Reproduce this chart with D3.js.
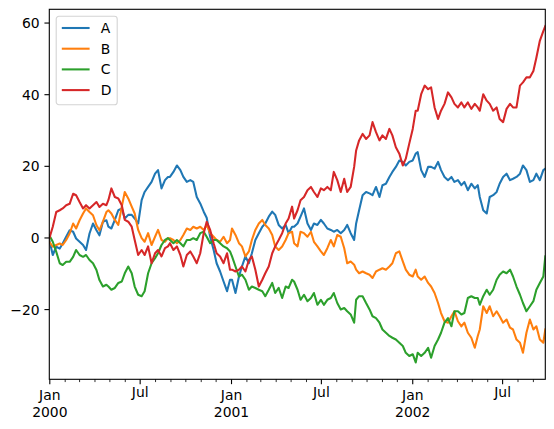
<!DOCTYPE html>
<html>
<head>
<meta charset="utf-8">
<script src="https://cdn.jsdelivr.net/npm/d3@7"></script>
<style>
  body { margin: 0; background: #fff; }
  svg { display: block; font-family: "DejaVu Sans", sans-serif; }
</style>
</head>
<body>
<svg width="554" height="429"></svg>
<script>
// day offsets from 2000-01-01
const dayOffsets = [
  0, 7, 14, 21, 27, 34, 41, 48, 54, 61, 68, 74, 81, 88, 95, 101, 108, 115,
  119, 125, 132, 139, 146, 152, 159, 166, 172, 179, 186, 192, 199, 206, 213, 219, 226, 233, 239,
  243, 250, 257, 264, 270, 277, 284, 290, 297, 304, 311, 317, 324, 331, 337, 344, 351, 358, 364,
  368, 375, 382, 388, 395, 402, 408, 415, 422, 429, 435, 442, 449, 455, 462, 469, 476, 482, 489,
  493, 500, 506, 513, 520, 527, 533, 540, 547, 553, 560, 567, 573, 580, 587, 594, 600, 607, 614,
  618, 624, 631, 638, 645, 651, 658, 665, 671, 678, 685, 691, 698, 705, 712, 718, 725, 732, 738,
  742, 749, 756, 763, 769, 776, 783, 789, 796, 803, 810, 816, 823, 830, 836, 843, 850, 857, 863,
  867, 874, 881, 887, 894, 901, 907, 914, 921, 928, 934, 941, 948, 954, 961, 968, 975, 981, 988, 995, 999
];

const seriesA = [
  -0.7, -4.9, -2.6, -3.1, -1.7, 0.2, 2.0, 1.6, -0.3, -1.2, -2.1, -3.5, 1.1, 3.9, 2.0, 0.6, 4.4, 4.8,
  3.0, 2.5, 4.9, 7.6, 8.1, 5.3, 6.3, 6.3, 5.3, 3.9, 10.4, 12.7, 14.1, 15.5, 17.8, 18.8, 13.7, 16.0, 16.9,
  16.9, 18.3, 20.1, 18.8, 16.9, 15.5, 16.0, 15.5, 11.3, 9.5, 7.2, 5.5, 0.2, -3.5, -7.2, -9.5, -12.3, -15.0, -11.8,
  -11.8, -15.5, -10.9, -8.1, -5.3, -7.2, -4.4, -0.7, 1.2, 3.0, 3.9, 5.8, 7.2, 6.3, 3.5, 2.5, 3.5, 1.2, 3.0,
  3.0, 3.9, 5.8, 8.1, 3.9, 2.1, 3.9, 3.5, 4.9, 3.9, 2.5, 2.1, 1.6, 2.1, 1.2, 2.1, 3.5, 1.2, -0.7,
  3.9, 7.6, 11.8, 12.7, 12.3, 11.8, 14.1, 11.3, 14.6, 15.0, 16.9, 18.3, 19.7, 21.5, 21.1, 20.1, 21.1, 21.5, 23.4,
  23.8, 18.8, 16.9, 19.7, 19.7, 19.2, 21.1, 18.8, 16.9, 16.0, 16.9, 15.5, 16.0, 14.6, 15.5, 13.2, 15.0, 13.7, 14.6,
  11.3, 7.6, 6.7, 11.3, 11.8, 12.7, 15.0, 16.9, 17.8, 16.0, 16.4, 16.9, 17.8, 20.1, 18.8, 15.5, 16.0, 17.8, 16.0, 18.8, 19.2
];

const seriesB = [
  -1.2, -2.6, -2.1, -1.7, -2.1, -0.7, 1.1, 3.9, 2.5, 4.8, 6.7, 8.1, 7.1, 6.2, 3.4, 2.0, 4.4, 7.1,
  7.6, 6.7, 4.9, 3.5, 8.6, 12.7, 10.9, 8.6, 6.7, 2.1, -0.2, -1.2, 1.2, -2.1, 0.2, 2.1, -0.7, -1.2, -0.2,
  -0.2, -0.7, -1.6, -0.7, 0.7, 2.5, 2.1, 3.0, 2.5, 3.0, 2.1, 3.5, 1.2, 0.2, -0.7, -1.2, 0.2, -1.6, -0.7,
  2.5, 0.7, -1.6, -2.5, -5.3, -3.9, -0.7, 2.1, 3.9, 4.9, 3.5, 2.5, 0.7, -2.5, -3.5, -2.5, -0.7, 1.2, 1.6,
  -1.6, -2.5, 1.6, 1.2, 0.2, 1.6, -1.2, -2.5, -3.9, -4.9, -3.0, -0.7, -2.5, 0.7, 0.2, -3.0, -7.2, -6.7, -7.6,
  -9.0, -10.0, -9.5, -10.0, -10.4, -11.3, -9.5, -9.0, -8.6, -9.0, -8.1, -7.2, -4.4, -3.9, -6.7, -9.0, -10.4, -10.9, -9.0,
  -10.9, -11.8, -10.9, -12.7, -13.7, -15.5, -18.3, -21.1, -23.4, -23.8, -22.0, -20.6, -23.4, -24.8, -23.8, -26.6, -28.0, -30.8, -27.5,
  -25.7, -19.2, -21.1, -19.2, -22.0, -20.6, -22.0, -23.8, -22.9, -25.2, -25.7, -28.5, -29.4, -32.2, -26.6, -22.9, -25.7, -24.8, -28.5, -29.4, -25.7
];

const seriesC = [
  0.6, -1.2, -4.0, -7.2, -7.7, -6.8, -6.8, -5.4, -3.5, -4.9, -5.4, -4.9, -6.3, -7.2, -9.1, -11.9, -13.7, -13.2,
  -13.7, -14.6, -14.1, -12.7, -12.3, -10.0, -8.1, -10.0, -13.7, -16.0, -16.4, -15.0, -10.0, -7.2, -5.8, -4.4, -2.1, -0.7, -0.2,
  -0.7, -1.6, -0.7, -1.6, -2.5, -0.7, -0.7, -0.2, -0.7, 1.2, 1.6, 0.2, -1.6, -0.7, -0.7, -1.6, -2.5, -3.0, -3.9,
  -5.3, -8.1, -10.9, -10.4, -11.8, -14.6, -13.7, -14.1, -14.6, -15.0, -16.4, -14.6, -12.7, -15.5, -14.1, -16.9, -13.7, -14.1, -11.8,
  -12.3, -14.6, -17.4, -16.0, -17.8, -16.9, -15.5, -18.8, -17.4, -18.8, -17.4, -16.9, -15.5, -18.3, -20.1, -19.7, -20.6, -21.5, -23.8,
  -17.4, -16.4, -16.4, -18.3, -20.1, -22.0, -22.5, -23.8, -25.7, -26.6, -27.5, -28.0, -28.5, -29.4, -30.3, -32.2, -33.1, -32.6, -34.9,
  -32.2, -33.1, -32.2, -30.8, -33.6, -30.3, -28.5, -26.6, -23.8, -22.5, -24.8, -20.6, -20.6, -21.5, -21.1, -16.9, -16.4, -16.9, -16.9,
  -18.8, -16.4, -14.6, -16.0, -14.6, -11.8, -10.4, -9.5, -10.0, -9.0, -10.9, -13.7, -16.0, -18.3, -20.6, -19.2, -17.8, -14.6, -12.7, -10.9, -5.3
];

const seriesD = [
  -0.3, 3.0, 7.1, 7.6, 8.1, 9.0, 9.4, 12.2, 11.8, 9.9, 8.1, 9.0, 8.1, 9.0, 9.9, 8.5, 9.4, 9.0,
  10.4, 13.7, 11.3, 10.9, 9.0, 4.9, 4.4, 3.0, -0.7, -4.9, -3.5, -4.9, -2.5, -7.2, -4.4, -3.5, -5.3, -3.0, -2.5,
  -1.6, -3.5, -2.5, -4.9, -8.1, -4.9, -3.9, -5.3, -7.2, -4.4, 1.2, 4.4, 2.1, -1.6, -4.4, -5.3, -7.2, -4.4, -9.0,
  -9.0, -9.5, -9.0, -8.1, -9.5, -6.3, -5.3, -9.0, -13.7, -11.8, -10.0, -8.1, -4.4, -2.5, -0.7, 1.2, 3.9, 5.3, 8.6,
  5.3, 7.6, 10.4, 11.3, 13.2, 14.1, 12.7, 11.3, 13.7, 13.2, 14.1, 13.2, 18.3, 16.0, 12.7, 16.4, 12.7, 14.1, 19.7,
  24.3, 27.1, 28.9, 27.5, 28.5, 32.2, 29.4, 27.1, 28.5, 27.5, 30.3, 28.5, 25.2, 23.4, 20.1, 22.0, 26.2, 30.3, 35.4,
  35.4, 40.0, 42.4, 41.4, 41.9, 36.3, 33.1, 35.4, 37.3, 40.5, 39.1, 37.3, 36.3, 37.7, 36.3, 37.7, 35.9, 37.3, 36.3,
  35.4, 40.0, 38.2, 37.3, 35.4, 36.3, 33.1, 32.2, 35.9, 37.3, 36.3, 36.3, 42.4, 43.3, 44.7, 44.7, 46.5, 50.2, 54.9, 57.6, 59.0
];

const seriesNames = ["A", "B", "C", "D"];
const seriesColors = ["#1f77b4", "#ff7f0e", "#2ca02c", "#d62728"];
const yTicks = [-20, 0, 20, 40, 60];
const xMajorTicks = ["2000-01-01", "2000-07-01", "2001-01-01", "2001-07-01", "2002-01-01", "2002-07-01"];
const xMajorLabels = [["Jan", "2000"], ["Jul"], ["Jan", "2001"], ["Jul"], ["Jan", "2002"], ["Jul"]];
const startDate = "2000-01-01";
const endDate = "2002-09-26";

const svgWidth = 554;
const svgHeight = 429;
const margin = { left: 49.3, right: 8.7, top: 9.3, bottom: 49.7 };
const chartWidth = svgWidth - margin.left - margin.right;
const chartHeight = svgHeight - margin.top - margin.bottom;
const fontSize = 13.9;

const svg = d3.select("svg");
const chartGroup = svg.append("g")
  .attr("transform", `translate(${margin.left}, ${margin.top})`);

const parse = d3.utcParse("%Y-%m-%d");
const start = parse(startDate);
const dates = dayOffsets.map((d) => d3.utcDay.offset(start, d));

const xScaler = d3.scaleUtc().domain([start, parse(endDate)]).range([0, chartWidth]);
const yScaler = d3.scaleLinear().domain([-39.6, 63.7]).range([chartHeight, 0]);

svg.append("defs").append("clipPath").attr("id", "plotClip")
  .append("rect").attr("width", chartWidth).attr("height", chartHeight);

// lines
const allSeries = [seriesA, seriesB, seriesC, seriesD];
const line = d3.line()
  .x((d, i) => xScaler(dates[i]))
  .y((d) => yScaler(d));

chartGroup.append("g").attr("clip-path", "url(#plotClip)")
  .selectAll("path")
  .data(allSeries)
  .join("path")
  .attr("d", (d) => line(d))
  .attr("fill", "none")
  .attr("stroke", (d, i) => seriesColors[i])
  .attr("stroke-width", 2.08)
  .attr("stroke-linejoin", "round")
  .attr("stroke-linecap", "square");

// y axis
const yAxisGroup = chartGroup.append("g");
yAxisGroup.call(d3.axisLeft(yScaler).tickValues(yTicks).tickSize(4.86).tickPadding(4.86)
  .tickFormat((d) => (d < 0 ? "\u2212" + Math.abs(d) : d)));
yAxisGroup.select(".domain").remove();
yAxisGroup.selectAll("line").attr("stroke", "#000").attr("stroke-width", 1.1);
yAxisGroup.selectAll("text").attr("font-size", fontSize).attr("font-family", "DejaVu Sans")
  .attr("fill", "#000").attr("dy", "0.36em");

// x axis: minor monthly ticks, major Jan/Jul ticks
const xAxisGroup = chartGroup.append("g").attr("transform", `translate(0, ${chartHeight})`);
const months = d3.utcMonth.range(start, d3.utcDay.offset(parse(endDate), 1));
const majorDates = xMajorTicks.map(parse);
const minorDates = months.filter((m) => !majorDates.some((j) => +j === +m));

const minorAxis = xAxisGroup.append("g").call(
  d3.axisBottom(xScaler).tickValues(minorDates).tickSize(2.78).tickFormat(""));
minorAxis.select(".domain").remove();
minorAxis.selectAll("line").attr("stroke", "#000").attr("stroke-width", 0.83);

const majorAxis = xAxisGroup.append("g").call(
  d3.axisBottom(xScaler).tickValues(majorDates).tickSize(4.86).tickFormat(""));
majorAxis.select(".domain").remove();
majorAxis.selectAll("line").attr("stroke", "#000").attr("stroke-width", 1.1);

majorAxis.selectAll(".tick").each(function (d, i) {
  const lines = xMajorLabels[i];
  const t = d3.select(this).append("text")
    .attr("fill", "#000")
    .attr("font-size", fontSize)
    .attr("font-family", "DejaVu Sans")
    .attr("text-anchor", "middle");
  lines.forEach((s, k) => {
    t.append("tspan").attr("x", 0)
      .attr("y", (lines.length === 1 ? 18.2 : 21.2) + k * 16.2)
      .text(s);
  });
});

// frame
chartGroup.append("rect")
  .attr("width", chartWidth).attr("height", chartHeight)
  .attr("fill", "none").attr("stroke", "#000").attr("stroke-width", 1.1);

// legend
const legend = chartGroup.append("g").attr("transform", "translate(6.9, 6.9)");
legend.append("rect")
  .attr("width", 61).attr("height", 88.5)
  .attr("rx", 2.8).attr("ry", 2.8)
  .attr("fill", "#fff").attr("fill-opacity", 0.8)
  .attr("stroke", "#d4d4d4").attr("stroke-width", 1.1);

const legendItems = legend.selectAll("g.item")
  .data(seriesNames)
  .join("g")
  .attr("class", "item")
  .attr("transform", (d, i) => `translate(0, ${11.8 + i * 20.7})`);
legendItems.append("line")
  .attr("x1", 5.6).attr("x2", 33.4)
  .attr("stroke", (d, i) => seriesColors[i])
  .attr("stroke-width", 2.08);
legendItems.append("text")
  .attr("x", 44.5).attr("dy", "0.36em")
  .attr("font-size", fontSize).attr("font-family", "DejaVu Sans")
  .attr("fill", "#000")
  .text((d) => d);
</script>
</body>
</html>
